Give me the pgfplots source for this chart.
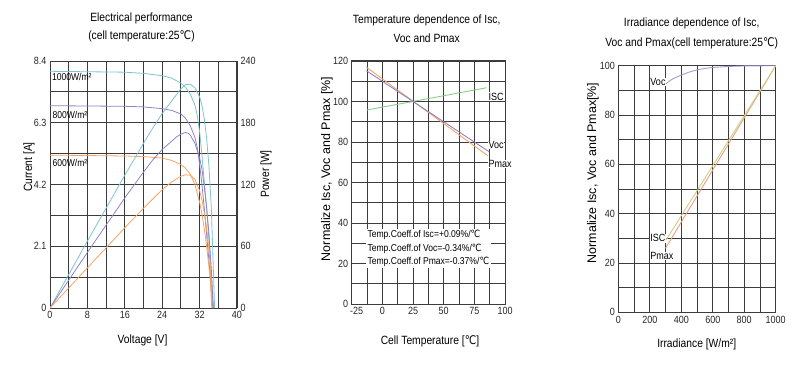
\documentclass[border=0pt]{standalone}
\usepackage{fontspec}
\setmainfont{Liberation Sans}[FakeStretch=0.86]
\newfontfamily\wide{Liberation Sans}
\newfontfamily\djvu{DejaVu Sans}[FakeStretch=0.86]
\usepackage{pgfplots}
\pgfplotsset{compat=1.18}
\definecolor{cyanc}{HTML}{7EC3CF}
\definecolor{purc}{HTML}{8E82C6}
\definecolor{orac}{HTML}{F3A466}
\definecolor{grnc}{HTML}{8CCB8A}
\definecolor{pinkc}{HTML}{EE9C8C}
\definecolor{yelc}{HTML}{C9D27E}
\definecolor{gridc}{HTML}{3C3C3C}
\newcommand{\dC}{{\djvu ℃}}
\pgfplotsset{panel/.style={scale only axis, anchor=south west,
  axis line style={gridc,line width=1bp},
  grid=both, major grid style={gridc,line width=0.9bp}, minor grid style={gridc,line width=0.9bp},
  major tick length=0pt, minor tick length=0pt,
  ticklabel style={font=\fontsize{10.5}{11}\selectfont, text=black!85},
  /pgf/number format/assume math mode=true, /pgf/number format/1000 sep={}, clip=false}}
\begin{document}
\begin{tikzpicture}[x=1bp,y=1bp]
\path[use as bounding box] (0,0) rectangle (800,377);
% ---------- Panel 1 ----------
\begin{axis}[panel, at={(50bp,69bp)}, width=187bp, height=247bp,
  xmin=0, xmax=40, ymin=0, ymax=8.4,
  xtick={0,8,...,40}, minor xtick={4,12,...,36},
  ytick={0,2.1,4.2,6.3,8.4}, yticklabels={0,2.1,4.2,6.3,8.4},
  minor ytick={1.05,3.15,5.25,7.35}]
\addplot[cyanc, line width=0.8bp] table {
0 8.05
16 8.02
20 7.98
24 7.90
26 7.82
28 7.65
29 7.50
30 7.28
31 6.90
31.5 6.55
32 6.00
32.5 5.20
33 4.30
33.5 3.40
34 2.30
34.5 1.20
35.0 0
};
\addplot[purc, line width=0.8bp] table {
0 6.88
16 6.86
20 6.84
24 6.78
26 6.72
28 6.60
29 6.45
30 6.20
31 5.80
31.5 5.45
32 4.90
32.5 4.20
33 3.40
33.5 2.50
34 1.60
34.5 0.70
34.8 0
};
\addplot[orac, line width=0.8bp] table {
0 5.20
16 5.17
20 5.15
24 5.10
26 5.02
28 4.88
29 4.75
30 4.55
31 4.20
32 3.60
32.5 3.20
33 2.70
33.5 2.10
34 1.40
34.3 0.90
34.6 0
};
\node[anchor=west, font=\fontsize{10}{11}\selectfont, inner sep=0pt] at (axis cs:0.4,7.86) {1000W/m²};
\node[anchor=west, font=\fontsize{10}{11}\selectfont, inner sep=0pt] at (axis cs:0.5,6.56) {800W/m²};
\node[anchor=west, font=\fontsize{10}{11}\selectfont, inner sep=0pt] at (axis cs:0.5,4.95) {600W/m²};
\end{axis}
\begin{axis}[scale only axis, anchor=south west, at={(50bp,69bp)}, width=187bp, height=247bp,
  xmin=0, xmax=40, ymin=0, ymax=240, axis x line=none, axis y line*=right,
  axis line style={gridc,line width=1bp},
  ytick={0,60,...,240}, major tick length=0pt,
  ticklabel style={font=\fontsize{10.5}{11}\selectfont, text=black!85},
  /pgf/number format/assume math mode=true]
\addplot[cyanc, line width=0.8bp] table {
0 0
8 65
16 129
20 160
22 175
24 189
26 201
27 207
28 213
29 217
30 217.5
31 214
32 205
32.5 197
33 184
33.5 165
34 138
34.5 98
34.8 58
35.2 0
};
\addplot[purc, line width=0.8bp] table {
0 0
8 54
16 107
20 132
22 144
24 154
26 162
27 166
28 169
29 170.5
29.5 170
30 168
31 160
32 146
32.5 135
33 118
33.5 98
34 72
34.5 38
34.9 0
};
\addplot[orac, line width=0.8bp] table {
0 0
8 39
16 78
20 97
24 115
26 122.5
28 128
29 129.5
30 129
31 125
32 114
32.5 105
33 93
33.5 78
34 56
34.3 40
34.7 0
};
\end{axis}
\node[font=\fontsize{12}{14}\selectfont] at (141.5,358.7) {Electrical performance};
\node[font=\fontsize{12}{14}\selectfont] at (141.5,340.3) {(cell temperature:25\dC)};
\node[font=\fontsize{12}{14}\selectfont] at (142.5,37) {Voltage [V]};
\node[font=\fontsize{12}{14}\selectfont, rotate=90] at (29,210) {Current [A]};
\node[font=\fontsize{12}{14}\selectfont, rotate=90] at (266,203) {Power [W]};
% ---------- Panel 2 ----------
\begin{axis}[panel, at={(351.7bp,73bp)}, width=153.3bp, height=243bp,
  xmin=-25, xmax=100, ymin=0, ymax=120,
  xtick={-25,0,...,100}, xticklabels={\hspace*{10bp}-25,0,25,50,75,100},
  minor xtick={-12.5,12.5,37.5,62.5,87.5},
  ytick={0,20,...,120}, minor ytick={10,30,...,110}]
\addplot[grnc, line width=0.9bp] table {
-12.5 95.8
85 106.8
};
\addplot[orac, line width=0.9bp] table {
-13 116.9
86 73.2
};
\addplot[purc, line width=0.9bp] table {
-13 115.2
87 75.2
};
\node[anchor=west, font=\fontsize{10.5}{12}\selectfont, fill=white, inner sep=0.5pt] at (axis cs:86,102.4) {ISC};
\node[anchor=west, font=\fontsize{10.5}{12}\selectfont, fill=white, inner sep=0.5pt] at (axis cs:86,78.5) {Voc};
\node[anchor=west, font=\fontsize{10.5}{12}\selectfont, fill=white, inner sep=0.5pt] at (axis cs:86,69) {Pmax};
\node[anchor=west, align=left, fill=white, inner sep=1.5pt,
  font=\fontsize{10}{13.5}\selectfont] at (axis cs:-13.5,27.3)
  {Temp.Coeff.of Isc=+0.09\%/\dC\\Temp.Coeff.of Voc=-0.34\%/\dC\\Temp.Coeff.of Pmax=-0.37\%/\dC};
\end{axis}
\node[font=\fontsize{12}{14}\selectfont] at (426.7,357) {Temperature dependence of Isc,};
\node[font=\fontsize{12}{14}\selectfont] at (426.7,338.7) {Voc and Pmax};
\node[font=\fontsize{12}{14}\selectfont] at (430,35.3) {Cell Temperature [\dC]};
\node[font=\wide\fontsize{12.5}{14}\selectfont, rotate=90] at (327,208) {Normalize Isc, Voc and Pmax [\%]};
% ---------- Panel 3 ----------
\begin{axis}[panel, at={(618.3bp,64.7bp)}, width=157.4bp, height=246.6bp,
  xmin=0, xmax=1000, ymin=0, ymax=100,
  xtick={0,200,...,1000}, xticklabels={0,200,400,600,800,1000},
  minor xtick={100,300,...,900},
  ytick={0,20,...,100}, minor ytick={10,30,...,90}]
\addplot[purc!80, line width=0.9bp] table {
300 92.5
320 93.6
350 94.8
400 96.2
450 97.4
500 98.3
550 98.9
600 99.3
700 99.7
800 99.9
1000 100
};
\addplot[pinkc, line width=0.9bp] table {
300 26
1000 100
};
\addplot[yelc, line width=0.9bp] table {
300 29
1000 100
};
\node[anchor=west, font=\fontsize{10.5}{12}\selectfont, fill=white, inner sep=0.5pt] at (axis cs:200,93.5) {Voc};
\node[anchor=west, font=\fontsize{10.5}{12}\selectfont, fill=white, inner sep=0.5pt] at (axis cs:200,30) {ISC};
\node[anchor=west, font=\fontsize{10.5}{12}\selectfont, fill=white, inner sep=0.5pt] at (axis cs:200,22.8) {Pmax};
\end{axis}
\node[font=\fontsize{12}{14}\selectfont] at (691.7,353.7) {Irradiance dependence of Isc,};
\node[font=\fontsize{12}{14}\selectfont] at (691.7,333.7) {Voc and Pmax(cell temperature:25\dC)};
\node[font=\fontsize{12}{14}\selectfont] at (696.7,32.7) {Irradiance [W/m²]};
\node[font=\wide\fontsize{12.5}{14}\selectfont, rotate=90] at (593,204) {Normalize Isc, Voc and Pmax[\%]};
\end{tikzpicture}
\end{document}
